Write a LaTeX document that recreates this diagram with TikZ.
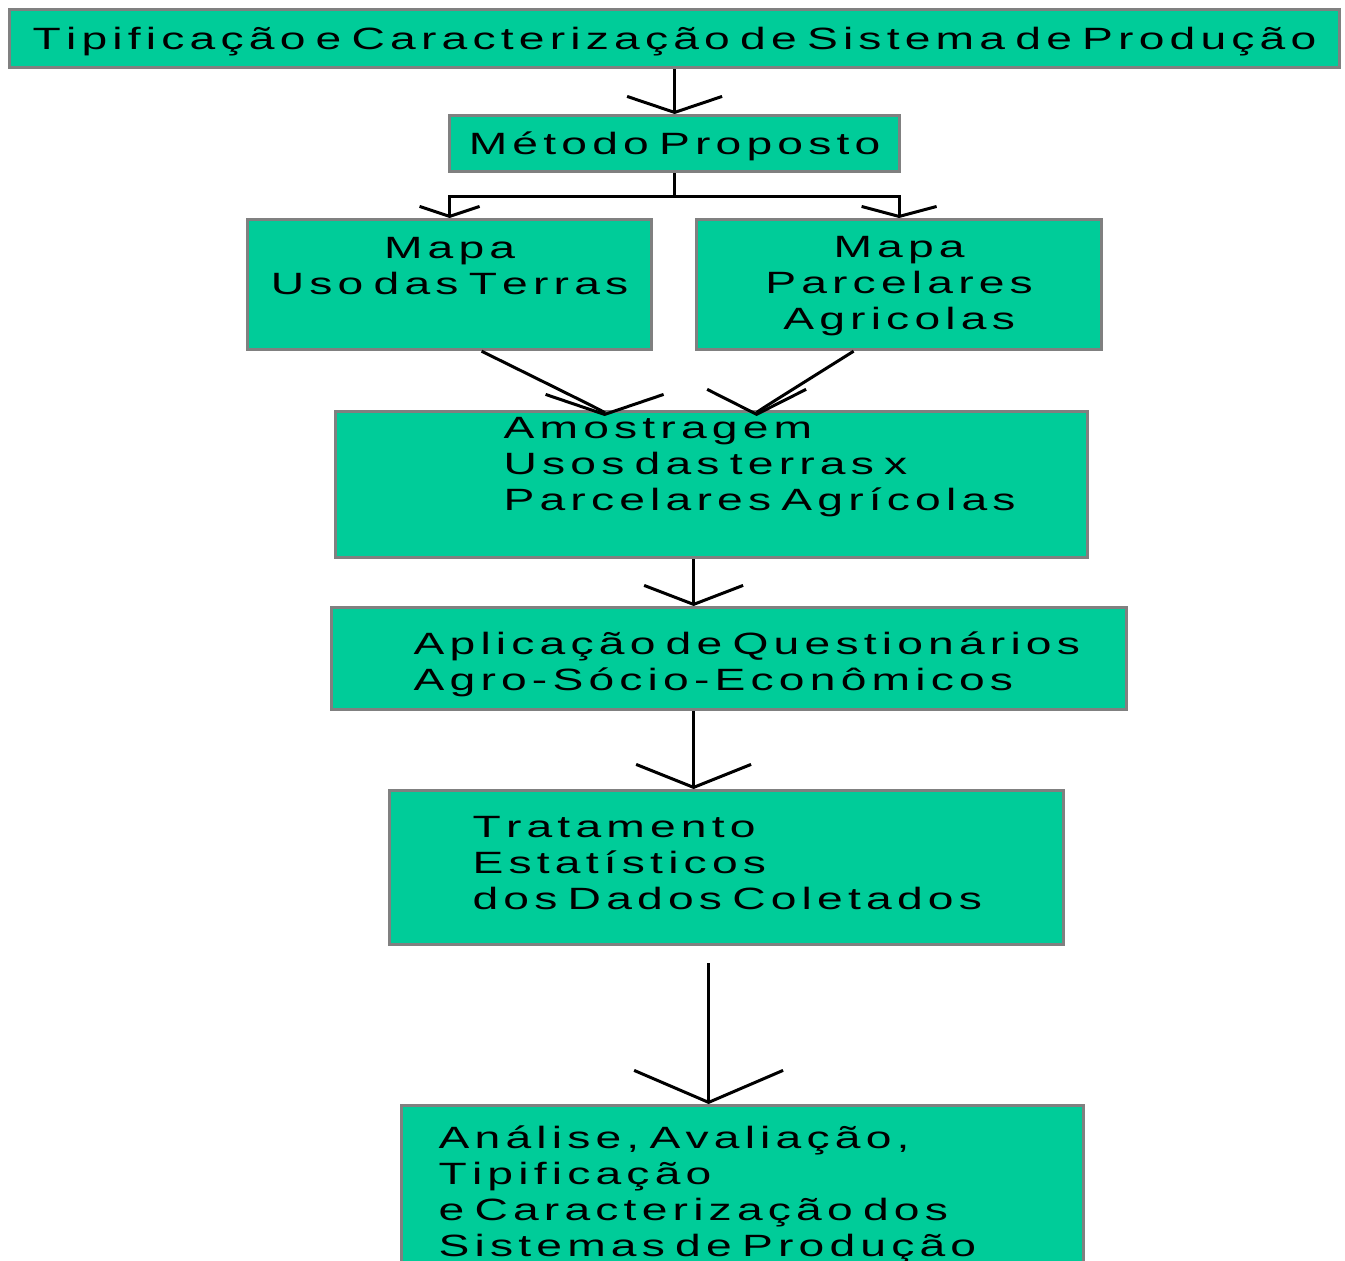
\documentclass[tikz,border=0pt]{standalone}
\usepackage{fontspec}
\newfontfamily\boxfont[FakeStretch=1.5]{Liberation Sans}
\usepackage{tikz}
\usetikzlibrary{arrows.meta,positioning}
\definecolor{boxgreen}{RGB}{0,204,153}
\definecolor{boxedge}{RGB}{128,128,128}
% wide tracking between letters of the box texts
\newXeTeXintercharclass\trackclass
\newcount\trackchar
\trackchar=33
\loop\XeTeXcharclass\trackchar=\trackclass\advance\trackchar by 1\ifnum\trackchar<256\repeat
\XeTeXinterchartoks\trackclass\trackclass={\kern2.6pt}
\newcommand\tracked{\XeTeXinterchartokenstate=1 }

\begin{document}
\begin{tikzpicture}[
  x=0.5pt,y=-0.5pt,
  stage/.style={draw=boxedge,fill=boxgreen,line width=1.6pt,anchor=north west,inner sep=0pt,font=\boxfont\fontsize{15.4pt}{18pt}\selectfont\tracked},
  centred/.style={align=center},
  indent/.style={execute at begin node={\leftskip=#1\relax\rightskip=0pt plus 1fil\relax}},
  flow/.style 2 args={-{Straight Barb[width=#1,length=#2]},line width=1.5pt}
]
\useasboundingbox (0,0) rectangle (1345,1260);
\node[stage,centred,text width=665pt,text height=20pt,text depth=9pt] (tipo) at (8,8) {Tipificação e Caracterização de Sistema de Produção};
\node[stage,centred,text width=225pt,text height=19.3pt,text depth=8.7pt] (metodo) at (448,114) {Método Proposto};
\draw[flow={47.5pt}{8pt}] (tipo) -- (metodo);
\node[stage,centred,text width=202pt,text height=19.5pt,text depth=45.5pt] (uso) at (246,218) {Mapa\\Uso das Terras};
\node[stage,centred,text width=202.5pt,text height=19pt,text depth=46pt] (parc) at (695,218) {Mapa\\Parcelares\\Agricolas};
\coordinate[below=11.5pt of metodo.south] (fork);
\draw[line width=1.5pt] (metodo) -- (fork);
\draw[flow={30pt}{5pt}] (fork) -| (uso.north);
\draw[flow={37.5pt}{5pt}] (fork) -| (parc.north);
\node[stage,indent=84pt,text width=376pt,text height=13.5pt,text depth=59.5pt] (amost) at (334,410) {Amostragem\\Usos das terras x\\Parcelares Agrícolas};
\draw[flow={59pt}{10pt}] ([xshift=16pt]uso.south) .. controls ([xshift=-53.5pt,yshift=-1pt]amost.north) .. ([xshift=-53.5pt,yshift=-3pt]amost.north);
\draw[flow={49.5pt}{12.5pt}] ([xshift=-22.75pt]parc.south) .. controls ([xshift=22.5pt,yshift=-1pt]amost.north) .. ([xshift=22.5pt,yshift=-3pt]amost.north);
\node[stage,indent=41pt,text width=397.5pt,text height=23.5pt,text depth=27.5pt] (aplic) at (330,606) {Aplicação de Questionários\\Agro-Sócio-Econômicos};
\draw[flow={49.5pt}{9.5pt}] ([xshift=-9pt]amost.south) -- ([xshift=-9pt]amost.south |- aplic.north);
\node[stage,indent=41.5pt,text width=337pt,text height=23.5pt,text depth=53.5pt] (trat) at (388,789) {Tratamento\\Estatísticos\\dos Dados Coletados};
\draw[flow={57.5pt}{11.5pt}] ([xshift=-17.75pt]aplic.south) -- ([xshift=-17.75pt]aplic.south |- trat.north);
\node[stage,indent=18.5pt,text width=341pt,text height=21.5pt,text depth=78.5pt] (anal) at (400,1104) {Análise, Avaliação,\\Tipificação\\e Caracterização dos\\Sistemas de Produção};
\draw[flow={74.5pt}{16pt}] ([xshift=-9pt,yshift=-8.5pt]trat.south) -- ([xshift=-9pt]trat.south |- anal.north);
\end{tikzpicture}
\end{document}
